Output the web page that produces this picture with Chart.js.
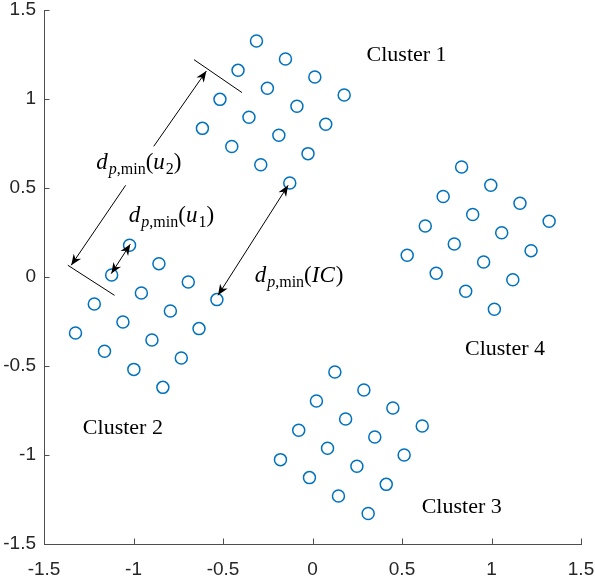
<!DOCTYPE html>
<html>
<head>
<meta charset="utf-8">
<script src="https://cdn.jsdelivr.net/npm/chart.js@4/dist/chart.umd.min.js"></script>
<style>
    body { margin: 0; background: #fff; }
    #wrap { width: 595px; height: 578px; }
</style>
</head>
<body>
<div id="wrap"><canvas id="clusterChart" width="595" height="578"></canvas></div>
<script>
const cluster1X = [-0.313, -0.151, 0.013, 0.177, -0.416, -0.252, -0.087, 0.074, -0.517, -0.355, -0.188, -0.025, -0.615, -0.451, -0.289, -0.127];
const cluster1Y = [1.326, 1.225, 1.124, 1.022, 1.161, 1.060, 0.959, 0.858, 0.998, 0.897, 0.796, 0.693, 0.835, 0.733, 0.631, 0.528];

const cluster2X = [-1.022, -0.858, -0.694, -0.534, -1.122, -0.956, -0.794, -0.634, -1.219, -1.059, -0.897, -0.733, -1.324, -1.162, -0.998, -0.836];
const cluster2Y = [0.178, 0.075, -0.028, -0.127, 0.011, -0.090, -0.191, -0.290, -0.152, -0.253, -0.354, -0.455, -0.315, -0.417, -0.519, -0.620];

const cluster3X = [0.125, 0.287, 0.449, 0.613, 0.022, 0.185, 0.348, 0.512, -0.077, 0.084, 0.248, 0.412, -0.179, -0.017, 0.145, 0.311];
const cluster3Y = [-0.534, -0.635, -0.736, -0.837, -0.697, -0.798, -0.899, -1.000, -0.861, -0.962, -1.063, -1.165, -1.026, -1.127, -1.230, -1.329];

const cluster4X = [0.833, 0.996, 1.159, 1.322, 0.730, 0.895, 1.057, 1.221, 0.630, 0.792, 0.956, 1.119, 0.529, 0.691, 0.856, 1.016];
const cluster4Y = [0.618, 0.515, 0.414, 0.313, 0.452, 0.351, 0.249, 0.148, 0.287, 0.185, 0.084, -0.015, 0.122, 0.021, -0.080, -0.181];

const tickLabels = ['-1.5', '-1', '-0.5', '0', '0.5', '1', '1.5'];

// annotazioni, in coordinate dei dati
const clusterNames = ['Cluster 1', 'Cluster 2', 'Cluster 3', 'Cluster 4'];
const clusterNameX = [0.302, -1.283, 0.610, 0.852];
const clusterNameY = [1.213, -0.880, -1.326, -0.440];

const bracketLines = [
    [[-0.662, 1.221], [-0.394, 1.036]],
    [[-1.367, 0.066], [-1.106, -0.103]]
];

// [from, to, doppia punta?]
const arrows = [
    [[-0.887, 0.734], [-0.593, 1.157], false],
    [[-1.044, 0.515], [-1.348, 0.066], false],
    [[-1.124, 0.019], [-1.018, 0.184], true],
    [[-0.528, -0.103], [-0.136, 0.515], true]
];

// pezzi di testo: [testo, italico, pedice]
const mathLabels = [
    { x: -1.208, y: 0.605, parts: [['d', true, false], ['p', true, true], [',min', false, true], ['(', false, false], ['u', true, false], ['2', false, true], [')', false, false]] },
    { x: -1.026, y: 0.309, parts: [['d', true, false], ['p', true, true], [',min', false, true], ['(', false, false], ['u', true, false], ['1', false, true], [')', false, false]] },
    { x: -0.323, y: -0.028, parts: [['d', true, false], ['p', true, true], [',min', false, true], ['(', false, false], ['IC', true, false], [')', false, false]] }
];

function zip(xs, ys) {
    return xs.map((x, i) => ({ x: x, y: ys[i] }));
}

function drawArrowHead(ctx, x1, y1, x2, y2) {
    const ang = Math.atan2(y2 - y1, x2 - x1);
    const len = 11, half = 4.5;
    ctx.save();
    ctx.translate(x2, y2);
    ctx.rotate(ang);
    ctx.beginPath();
    ctx.moveTo(0, 0);
    ctx.lineTo(-len, -half);
    ctx.lineTo(-len * 0.7, 0);
    ctx.lineTo(-len, half);
    ctx.closePath();
    ctx.fill();
    ctx.restore();
}

function drawMath(ctx, px, py, parts) {
    let cx = px;
    parts.forEach(p => {
        const size = p[2] ? 16 : 23;
        ctx.font = (p[1] ? 'italic ' : '') + size + 'px "Liberation Serif"';
        ctx.fillText(p[0], cx, p[2] ? py + 5 : py);
        cx += ctx.measureText(p[0]).width + (p[1] && !p[2] ? 1 : 0);
    });
}

const annotazioni = {
    id: 'annotazioni',
    afterDatasetsDraw(chart) {
        const ctx = chart.ctx;
        const xs = chart.scales.x, ys = chart.scales.y;
        const px = v => xs.getPixelForValue(v);
        const py = v => ys.getPixelForValue(v);
        ctx.save();

        // tacche interne
        ctx.strokeStyle = '#4d4d4d';
        ctx.lineWidth = 1;
        xs.ticks.forEach(t => {
            const x = Math.round(px(t.value)) + 0.5;
            ctx.beginPath();
            ctx.moveTo(x, ys.bottom);
            ctx.lineTo(x, ys.bottom - 5.5);
            ctx.stroke();
        });
        ys.ticks.forEach(t => {
            const y = Math.round(py(t.value)) + 0.5;
            ctx.beginPath();
            ctx.moveTo(xs.left, y);
            ctx.lineTo(xs.left + 5.5, y);
            ctx.stroke();
        });

        ctx.strokeStyle = '#000';
        ctx.fillStyle = '#000';
        ctx.lineWidth = 1;
        bracketLines.forEach(l => {
            ctx.beginPath();
            ctx.moveTo(px(l[0][0]), py(l[0][1]));
            ctx.lineTo(px(l[1][0]), py(l[1][1]));
            ctx.stroke();
        });

        arrows.forEach(a => {
            const x1 = px(a[0][0]), y1 = py(a[0][1]);
            const x2 = px(a[1][0]), y2 = py(a[1][1]);
            ctx.beginPath();
            ctx.moveTo(x1, y1);
            ctx.lineTo(x2, y2);
            ctx.stroke();
            drawArrowHead(ctx, x1, y1, x2, y2);
            if (a[2]) drawArrowHead(ctx, x2, y2, x1, y1);
        });

        ctx.fillStyle = '#000';
        ctx.textBaseline = 'alphabetic';
        ctx.textAlign = 'left';
        ctx.font = '22px "Liberation Serif"';
        clusterNames.forEach((n, i) => {
            ctx.fillText(n, px(clusterNameX[i]), py(clusterNameY[i]));
        });

        mathLabels.forEach(m => drawMath(ctx, px(m.x), py(m.y), m.parts));
        ctx.restore();
    }
};

function creaAsse(dimensione, lato) {
    return {
        type: 'linear',
        position: lato,
        min: -1.5,
        max: 1.5,
        afterFit: scale => {
            if (lato === 'left') scale.width = dimensione;
            else scale.height = dimensione;
            // niente margini extra per le etichette, li gestisce layout.padding
            scale.paddingLeft = 0;
            scale.paddingRight = 0;
            scale.paddingTop = 0;
            scale.paddingBottom = 0;
        },
        border: { display: true, color: '#4d4d4d', width: 1 },
        grid: { display: true, drawOnChartArea: false, drawTicks: false },
        ticks: {
            stepSize: 0.5,
            padding: lato === 'left' ? 8 : 16,
            color: '#262626',
            font: { family: '"Liberation Sans", Arial, sans-serif', size: 19, lineHeight: 1 },
            callback: v => tickLabels[Math.round((v + 1.5) * 2)]
        }
    };
}

document.addEventListener('DOMContentLoaded', () => {
    const stile = {
        borderColor: '#0072BD',
        backgroundColor: 'rgba(0,0,0,0)',
        pointRadius: 6,
        pointBorderWidth: 1.5,
        pointStyle: 'circle'
    };

    new Chart(document.getElementById('clusterChart'), {
        type: 'scatter',
        data: {
            datasets: [
                Object.assign({ label: clusterNames[0], data: zip(cluster1X, cluster1Y) }, stile),
                Object.assign({ label: clusterNames[1], data: zip(cluster2X, cluster2Y) }, stile),
                Object.assign({ label: clusterNames[2], data: zip(cluster3X, cluster3Y) }, stile),
                Object.assign({ label: clusterNames[3], data: zip(cluster4X, cluster4Y) }, stile)
            ]
        },
        options: {
            responsive: false,
            animation: false,
            events: [],
            layout: { padding: { top: 10, right: 14, left: 0, bottom: 0 } },
            plugins: {
                legend: { display: false },
                tooltip: { enabled: false }
            },
            scales: {
                x: creaAsse(34, 'bottom'),
                y: creaAsse(44, 'left')
            }
        },
        plugins: [annotazioni]
    });
});
</script>
</body>
</html>
